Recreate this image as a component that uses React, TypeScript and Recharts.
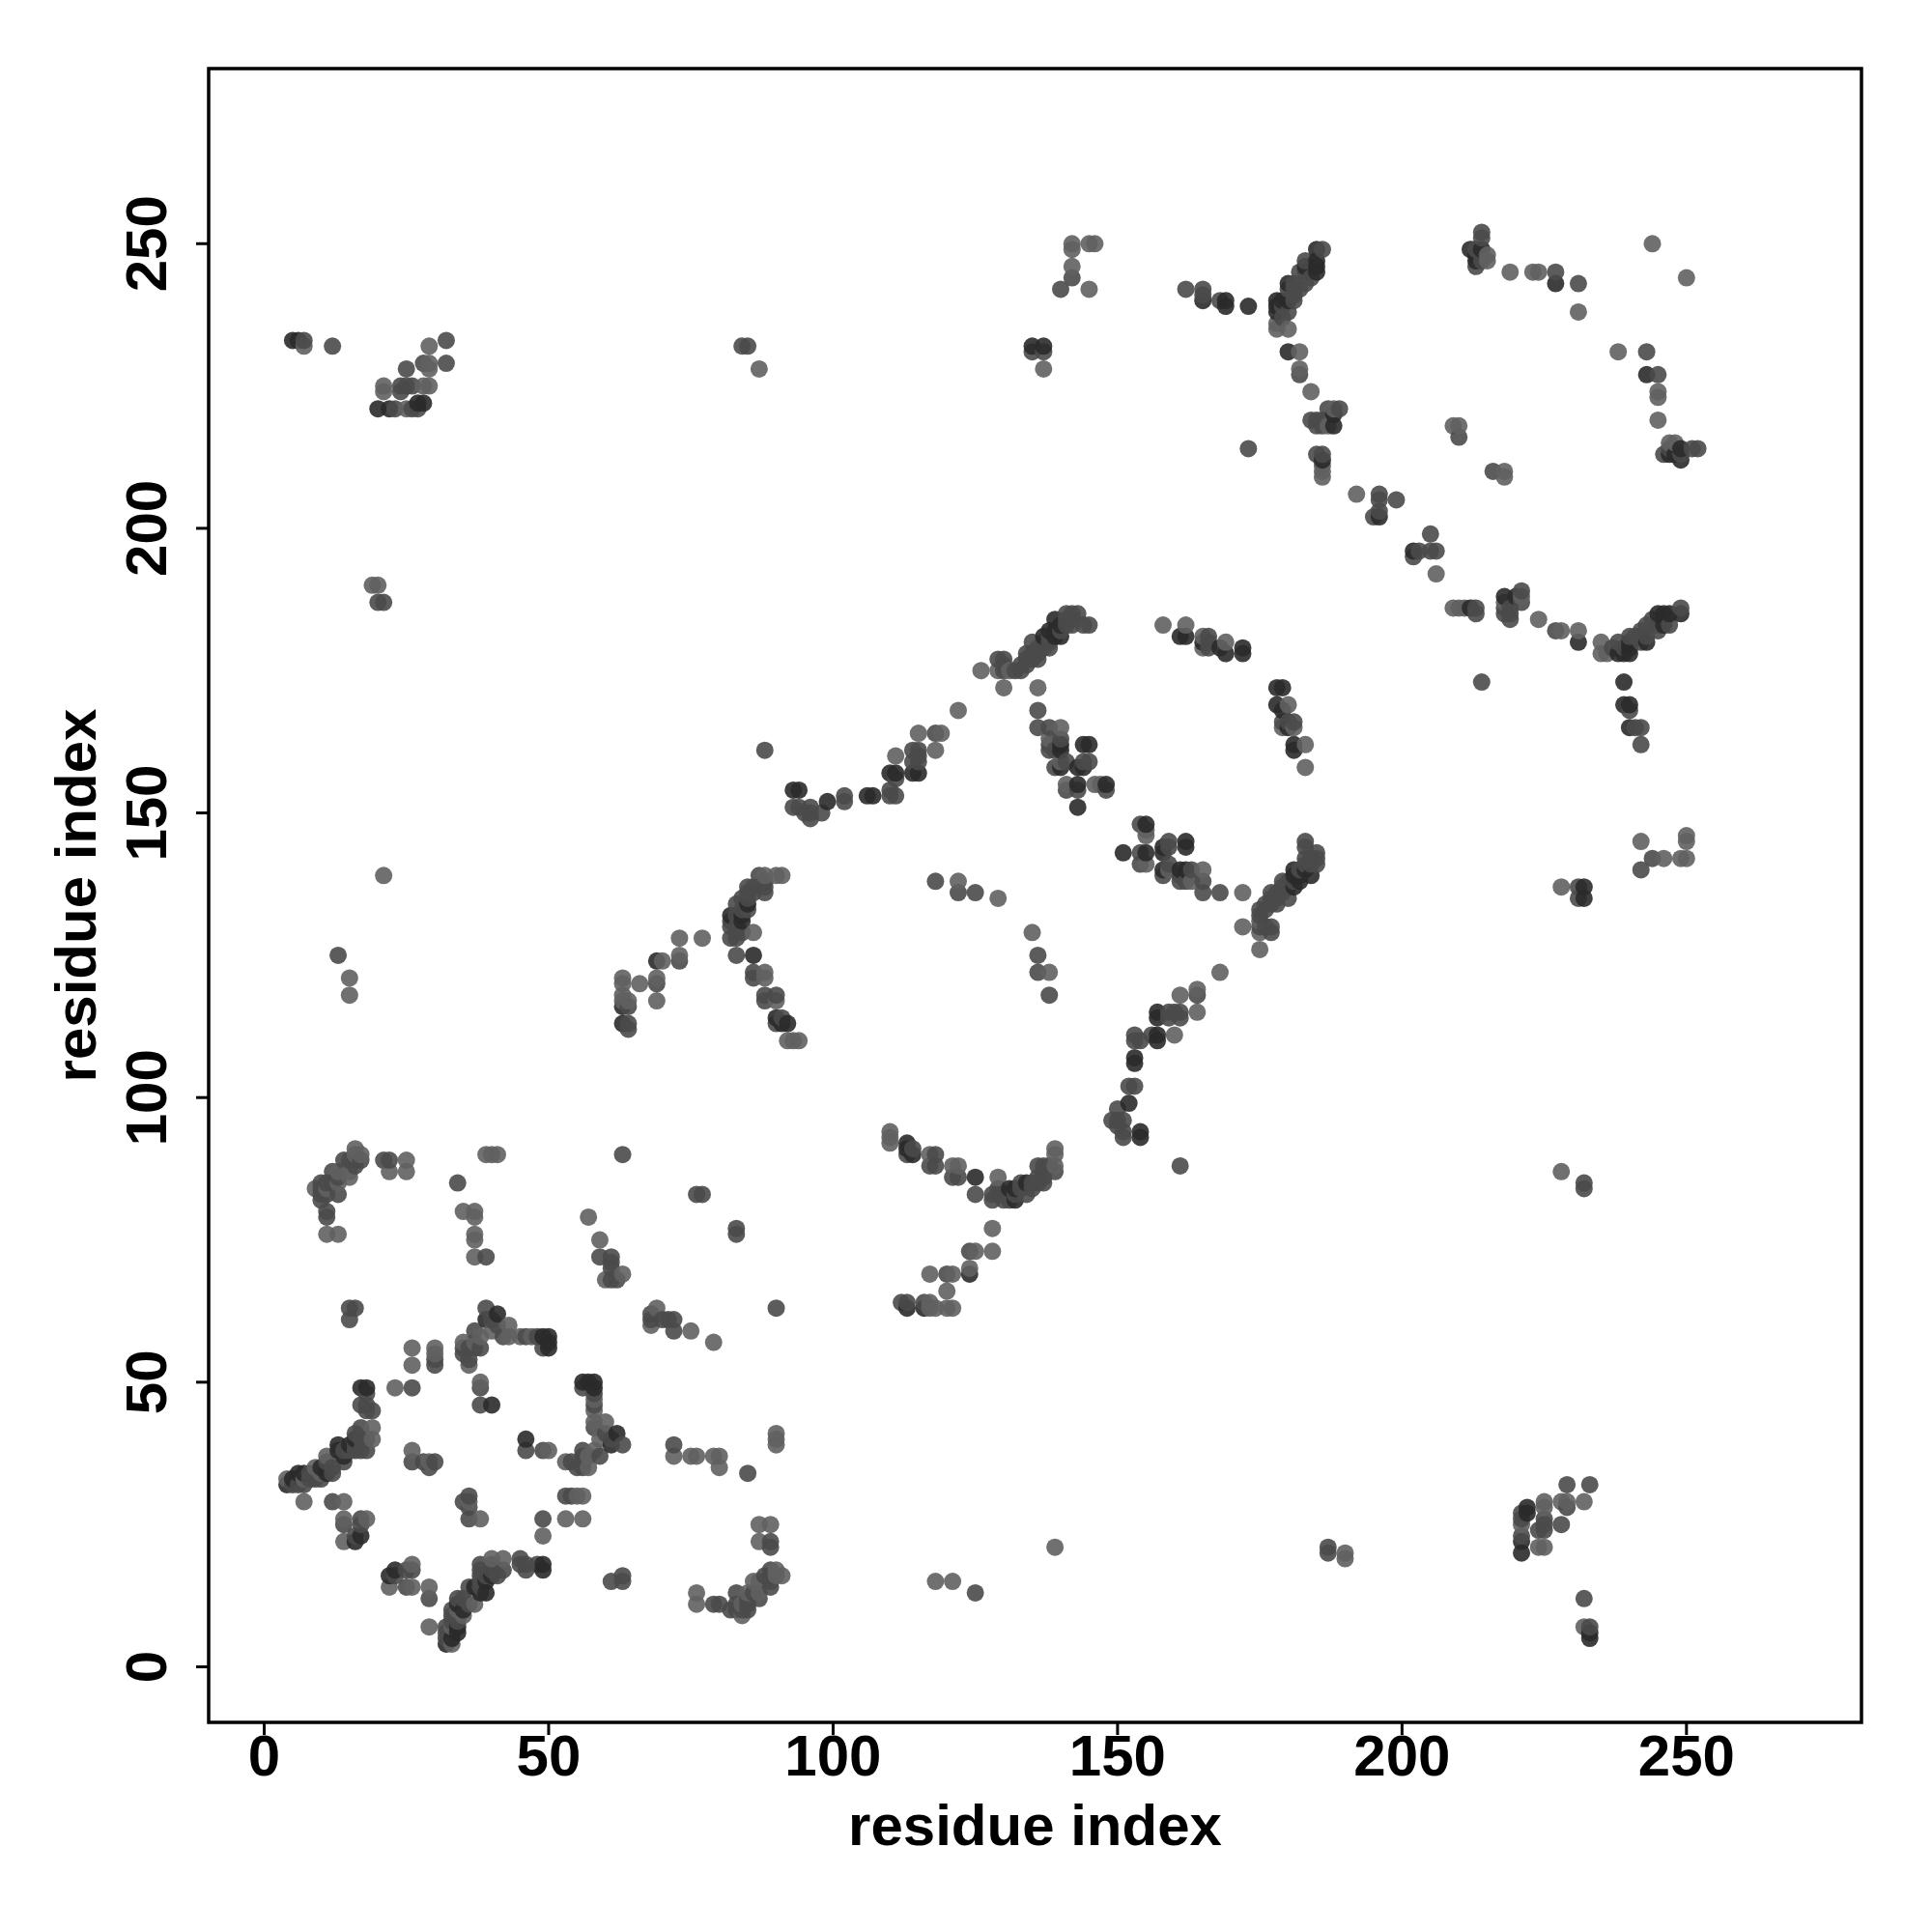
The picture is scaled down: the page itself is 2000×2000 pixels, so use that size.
import { Label, ReferenceArea, Scatter, ScatterChart, XAxis, YAxis } from "recharts";

type Pair = [number, number];

const xTicks = [0, 50, 100, 150, 200, 250];
const yTicks = [0, 50, 100, 150, 200, 250];
const axisDomain: [number, number] = [-9.76, 280.76];

// contact pairs, the map is symmetric so each pair is drawn both ways
const darkContacts: Pair[] = [
  [16, 22], [17, 23], [18, 49], [17, 49], [13, 39], [13, 38], [39, 61], [41, 62], [40, 46], [50, 58],
  [50, 57], [50, 56], [49, 58], [15, 39], [14, 37], [16, 40], [4, 32], [5, 33], [6, 34], [7, 34], [10, 35],
  [11, 34], [63, 113], [69, 124], [86, 125], [84, 131], [85, 134], [84, 132], [82, 132], [91, 113],
  [92, 113], [90, 114], [106, 153], [107, 153], [110, 157], [111, 157], [114, 157], [115, 157],
  [93, 154], [94, 154], [99, 152], [143, 155], [148, 155], [145, 162], [140, 162], [143, 158], [144, 158],
  [140, 158], [137, 181], [139, 181], [140, 181], [138, 182], [139, 182], [139, 184], [140, 183],
  [161, 181], [162, 181], [168, 179], [172, 179], [172, 178], [172, 179], [168, 179], [162, 181],
  [161, 181], [145, 162], [144, 162], [140, 161], [140, 162], [143, 151],
  [169, 240], [169, 239], [173, 239], [180, 243], [179, 240], [185, 249], [185, 246], [185, 247],
  [188, 218], [188, 220], [186, 212], [214, 249], [213, 248], [227, 243], [247, 213], [248, 213],
  [249, 214], [249, 212], [227, 243], [180, 231], [173, 239], [169, 240], [169, 239], [165, 240],
  [196, 202], [238, 178], [239, 178], [240, 178], [240, 179], [240, 180], [180, 243],
  [183, 246], [185, 249], [185, 245], [185, 246], [135, 232], [137, 232], [6, 233], [20, 221],
  [22, 221], [27, 222], [28, 222], [169, 178], [165, 180], [6, 233], [5, 233], [63, 116],
];

const midContacts: Pair[] = [
  [5, 32], [6, 32], [7, 32], [8, 33], [8, 34], [9, 33], [9, 34], [10, 33], [11, 36], [12, 34],
  [12, 35], [14, 36], [14, 38], [15, 38], [16, 38], [16, 39], [16, 41], [17, 38], [17, 40], [17, 42],
  [18, 38], [18, 40], [19, 45], [17, 46], [18, 46], [18, 45], [18, 48], [12, 29], [14, 25], [17, 25],
  [17, 26], [16, 23], [15, 61], [15, 63], [16, 63], [26, 49], [26, 36], [29, 35], [30, 36],
  [28, 36], [30, 53], [30, 54], [35, 55], [35, 56], [36, 54], [36, 56], [37, 56], [37, 59], [38, 56],
  [39, 63], [40, 61], [41, 60], [42, 58], [46, 58], [48, 58], [49, 56], [38, 46], [38, 49], [12, 87],
  [11, 85], [10, 85], [13, 83], [11, 83], [10, 83], [11, 80], [11, 79], [15, 89], [14, 89], [17, 89],
  [21, 89], [22, 89], [12, 85], [10, 82], [10, 84], [13, 86], [16, 88], [16, 89], [34, 85], [39, 72],
  [59, 72], [61, 72], [61, 71], [61, 70], [61, 68], [62, 68], [63, 90], [76, 83], [77, 83], [13, 125],
  [20, 187], [21, 187], [64, 116], [64, 113], [69, 120], [73, 124], [64, 112], [82, 128],
  [83, 128], [83, 129], [84, 129], [82, 130], [82, 131], [83, 130], [83, 132], [84, 133], [85, 133],
  [83, 134], [84, 135], [85, 135], [85, 136], [86, 136], [85, 137], [86, 137], [88, 136], [88, 137],
  [88, 138], [87, 139], [83, 125], [86, 122], [86, 121], [88, 118], [88, 117], [91, 114],
  [90, 113], [90, 118], [118, 138], [122, 136], [125, 136], [93, 151], [94, 151], [95, 150],
  [96, 149], [96, 151], [96, 150], [98, 150], [102, 153], [102, 152], [110, 153], [111, 153], [110, 154],
  [115, 159], [114, 159], [114, 161], [115, 161], [115, 160], [129, 177], [130, 176], [130, 175],
  [132, 175], [133, 175], [133, 176], [134, 177], [134, 178], [135, 178], [135, 180], [136, 177],
  [136, 178], [136, 179], [137, 179], [137, 180], [138, 179], [138, 180], [138, 181], [140, 182],
  [141, 183], [141, 184], [142, 183], [142, 184], [142, 185], [141, 185], [143, 185], [136, 168],
  [138, 162], [139, 161], [140, 163], [141, 159], [144, 159], [145, 159],
  [143, 154], [139, 158], [148, 154], [143, 155], [141, 154], [145, 159], [138, 161],
  [138, 165], [136, 165], [136, 168], [115, 157], [115, 160], [118, 164],
  [111, 156], [110, 154], [102, 152], [102, 153], [88, 161], [136, 165], [166, 181], [166, 179],
  [169, 178], [172, 178], [169, 178], [166, 180], [166, 181], [130, 177], [129, 177],
  [134, 176], [133, 175], [133, 176], [135, 177], [134, 177], [136, 178], [136, 179], [138, 179],
  [138, 180], [145, 183], [144, 183], [142, 183], [142, 184], [139, 184], [142, 185], [141, 185],
  [162, 242], [165, 242], [165, 241], [165, 240], [168, 240], [173, 214], [186, 249], [183, 247],
  [183, 246], [183, 245], [182, 245], [184, 244], [181, 243], [181, 242], [180, 242], [181, 240],
  [178, 240], [178, 239], [179, 239], [180, 238], [178, 238], [180, 231], [182, 227], [184, 219],
  [185, 219], [186, 218], [187, 221], [185, 218], [185, 213], [186, 213], [196, 205],
  [199, 205], [195, 202], [199, 205], [202, 195], [203, 196], [205, 196], [206, 196], [186, 219],
  [184, 219], [189, 221], [187, 221], [173, 214], [165, 241], [165, 242], [162, 242], [179, 237],
  [180, 238], [181, 241], [182, 242], [180, 242], [184, 244], [183, 243], [182, 245], [185, 247],
  [214, 252], [214, 251], [212, 249], [213, 249], [227, 245], [231, 243], [227, 245], [213, 246],
  [214, 247], [214, 251], [214, 252], [210, 216], [210, 216], [142, 244], [140, 242], [135, 231],
  [137, 231], [85, 232], [84, 232], [137, 231], [5, 233], [32, 233], [32, 229], [28, 229], [25, 228],
  [24, 225], [25, 225], [26, 225], [24, 224], [26, 221], [27, 221], [23, 221], [12, 232], [7, 233],
];

const lightContacts: Pair[] = [
  [4, 33], [5, 33], [7, 33], [9, 35], [10, 34], [11, 37], [14, 38], [18, 45], [19, 42], [19, 40],
  [7, 29], [14, 29], [14, 26], [14, 22], [18, 26], [23, 49], [26, 53], [26, 38], [29, 36], [30, 56],
  [30, 55], [36, 53], [38, 50], [43, 60], [43, 58], [45, 58], [47, 58], [40, 59], [37, 57], [35, 57],
  [38, 58], [16, 90], [16, 91], [17, 90], [13, 76], [11, 76], [15, 86], [15, 87], [13, 85], [11, 84],
  [9, 84], [22, 87], [25, 87], [25, 89], [37, 79], [37, 80], [37, 75], [37, 76], [37, 72], [35, 80],
  [34, 85], [41, 90], [40, 90], [39, 90], [15, 63], [16, 63], [26, 56], [57, 79], [59, 75], [60, 68],
  [63, 69], [15, 118], [15, 121], [21, 139], [19, 190], [20, 190], [7, 232], [12, 232], [29, 232],
  [29, 228], [29, 225], [21, 225], [21, 224], [28, 225], [25, 221], [26, 221], [29, 229], [13, 87],
  [63, 117], [64, 117], [66, 120], [69, 117], [70, 124], [73, 125], [73, 128], [77, 128], [63, 121],
  [63, 118], [63, 120], [69, 121], [88, 161], [92, 110], [93, 110], [94, 110], [90, 139], [91, 139],
  [88, 139], [86, 129], [88, 122], [88, 121], [90, 117], [90, 118], [122, 138], [129, 135], [92, 110],
  [111, 160], [115, 164], [118, 164], [119, 164], [118, 161], [122, 168], [126, 175],
  [130, 172], [130, 177], [129, 175], [131, 175], [136, 172], [136, 165], [138, 165], [140, 165],
  [138, 163], [141, 155], [141, 154], [146, 155], [147, 155], [140, 159], [145, 183], [144, 183],
  [158, 183], [162, 183], [165, 181], [165, 179], [166, 180], [169, 180], [169, 180], [165, 179],
  [166, 181], [165, 181], [162, 183], [158, 183], [136, 172], [130, 172], [130, 175], [129, 175],
  [126, 175], [122, 168], [119, 164], [118, 164], [118, 161], [115, 164], [115, 161], [111, 160],
  [118, 138], [111, 153], [111, 157], [96, 150], [96, 149], [94, 151], [98, 150], [114, 161],
  [219, 245], [223, 245], [224, 245], [244, 250], [244, 250], [219, 245], [224, 245], [223, 245],
  [209, 218], [210, 218], [209, 218], [210, 218], [184, 224], [182, 231], [182, 228], [180, 235],
  [186, 210], [186, 211], [192, 206], [196, 206], [188, 221], [189, 221], [192, 206], [186, 209],
  [186, 210], [186, 212], [186, 213], [185, 213], [187, 218], [188, 218], [184, 224], [182, 227],
  [182, 228], [182, 231], [180, 235], [178, 235], [178, 236], [186, 249], [142, 250], [142, 249],
  [145, 250], [146, 250], [142, 244], [145, 242], [142, 246], [87, 228], [84, 232], [213, 246],
  [215, 248], [215, 247], [178, 235], [178, 236], [215, 248], [215, 247], [137, 228],
  [231, 238], [231, 238], [231, 243],
];

type Shade = "dark" | "mid" | "light";
const shadeFill: Record<Shade, string> = { dark: "#2a2a2a", mid: "#4a4a4a", light: "#606060" };

// the lists were read cluster by cluster, so drop repeats before drawing
const seen = new Set<string>();
const toPoints = (pairs: Pair[], shade: Shade) =>
  pairs.flatMap(([i, j]) => {
    const key = `${Math.min(i, j)}-${Math.max(i, j)}`;
    if (seen.has(key)) return [];
    seen.add(key);
    return [
      { x: i, y: j, shade },
      { x: j, y: i, shade },
    ];
  });

// later residues sit on top, as in the reference
const contactPoints = [
  ...toPoints(darkContacts, "dark"),
  ...toPoints(midContacts, "mid"),
  ...toPoints(lightContacts, "light"),
].sort((a, b) => a.x - b.x || a.y - b.y);

const font = "'Liberation Sans', Arial, sans-serif";

function Dot({ cx, cy, payload }: any) {
  return <circle cx={cx} cy={cy} r={9} fill={shadeFill[payload.shade as Shade]} fillOpacity={0.9} />;
}

function YTick({ x, y, payload }: any) {
  const tx = x - 29;
  return (
    <text
      x={tx}
      y={y}
      transform={`rotate(-90 ${tx} ${y})`}
      textAnchor="middle"
      fontFamily={font}
      fontWeight={700}
      fontSize={60}
      fill="#000"
    >
      {payload.value}
    </text>
  );
}

function XTick({ x, y, payload }: any) {
  return (
    <text x={x} y={y + 40} textAnchor="middle" fontFamily={font} fontWeight={700} fontSize={60} fill="#000">
      {payload.value}
    </text>
  );
}

export default function App() {
  return (
    <div style={{ position: "absolute", left: 0, top: 0, width: 2000, height: 2000, background: "#fff" }}>
      <ScatterChart width={2000} height={2000} margin={{ top: 71, right: 73, bottom: 0, left: 0 }}>
        <XAxis
          type="number"
          dataKey="x"
          domain={axisDomain}
          ticks={xTicks}
          interval={0}
          height={217}
          axisLine={false}
          tickLine={{ stroke: "#000", strokeWidth: 3 }}
          tickSize={13}
          tick={<XTick />}
        >
          <Label
            value="residue index"
            position="insideBottom"
            offset={90}
            fontFamily={font}
            fontWeight={700}
            fontSize={60}
            fill="#000"
          />
        </XAxis>
        <YAxis
          type="number"
          dataKey="y"
          domain={axisDomain}
          ticks={yTicks}
          interval={0}
          width={216}
          axisLine={false}
          tickLine={{ stroke: "#000", strokeWidth: 3 }}
          tickSize={13}
          tick={<YTick />}
        >
          <Label
            value="residue index"
            angle={-90}
            position="insideLeft"
            offset={0}
            fontFamily={font}
            fontWeight={700}
            fontSize={60}
            fill="#000"
            dx={78}
            style={{ textAnchor: "middle" }}
          />
        </YAxis>
        <ReferenceArea
          x1={axisDomain[0]}
          x2={axisDomain[1]}
          y1={axisDomain[0]}
          y2={axisDomain[1]}
          fill="none"
          stroke="#000"
          strokeWidth={3.5}
          ifOverflow="visible"
        />
        <Scatter data={contactPoints} shape={Dot} isAnimationActive={false} />
      </ScatterChart>
    </div>
  );
}
